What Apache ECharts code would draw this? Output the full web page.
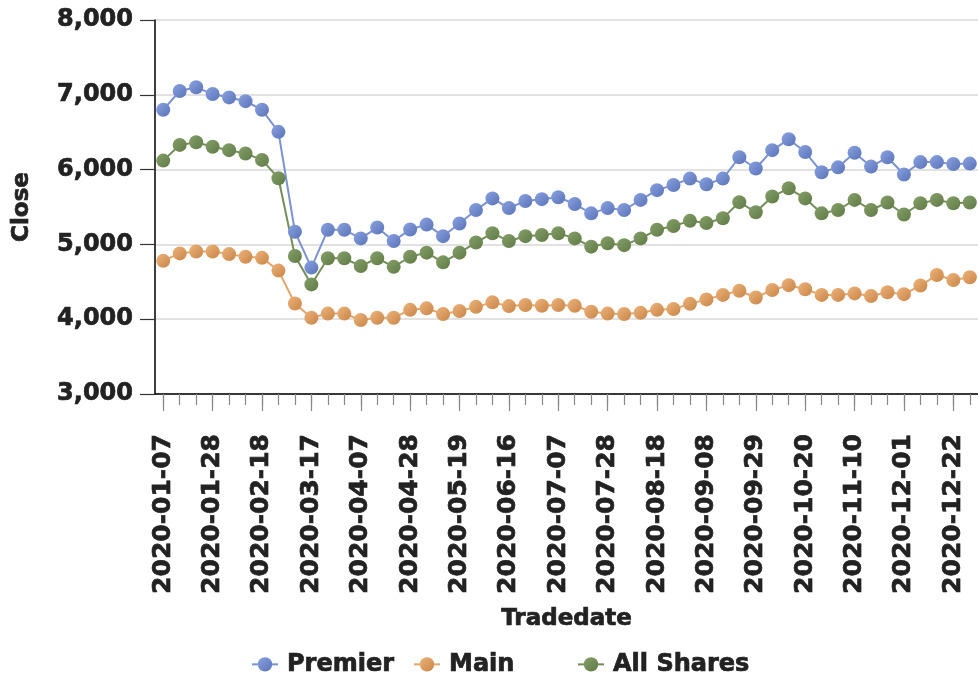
<!DOCTYPE html>
<html>
<head>
<meta charset="utf-8">
<script src="https://cdn.jsdelivr.net/npm/echarts@6/dist/echarts.min.js"></script>
<style>
html,body{margin:0;padding:0;background:#fff;}
#chart{width:978px;height:681px;}
</style>
</head>
<body>
<div id="chart"></div>
<script>
var tradedates = ['2020-01-07','2020-01-14','2020-01-21','2020-01-28','2020-02-04','2020-02-11','2020-02-18','2020-03-03','2020-03-10','2020-03-17',
'2020-03-24','2020-03-31','2020-04-07','2020-04-14','2020-04-21','2020-04-28','2020-05-05','2020-05-12','2020-05-19','2020-06-02',
'2020-06-09','2020-06-16','2020-06-23','2020-06-30','2020-07-07','2020-07-14','2020-07-21','2020-07-28','2020-08-04','2020-08-11',
'2020-08-18','2020-08-25','2020-09-01','2020-09-08','2020-09-15','2020-09-22','2020-09-29','2020-10-06','2020-10-13','2020-10-20',
'2020-10-27','2020-11-03','2020-11-10','2020-11-17','2020-11-24','2020-12-01','2020-12-08','2020-12-15','2020-12-22','2020-12-29'];

var premier = [6800,7050,7100,7010,6965,6915,6800,6505,5170,4690,
5195,5195,5080,5225,5045,5200,5265,5110,5280,5460,
5615,5485,5580,5605,5630,5540,5415,5485,5460,5595,
5725,5795,5880,5805,5880,6165,6015,6260,6405,6235,
5965,6030,6225,6040,6165,5935,6100,6100,6075,6080];

var mainIdx = [4780,4880,4905,4905,4870,4835,4820,4650,4210,4020,
4075,4075,3990,4020,4020,4125,4145,4070,4110,4165,
4225,4175,4190,4180,4190,4180,4100,4075,4070,4085,
4125,4135,4205,4265,4325,4380,4290,4390,4455,4400,
4325,4325,4345,4310,4360,4335,4450,4590,4525,4560];

var allShares = [6120,6330,6365,6305,6260,6215,6130,5885,4845,4465,
4815,4815,4710,4815,4700,4835,4890,4760,4890,5025,
5150,5045,5110,5125,5150,5080,4970,5015,4990,5080,
5195,5245,5315,5285,5350,5565,5430,5640,5750,5615,
5415,5460,5595,5460,5560,5400,5550,5595,5550,5560];

var seriesNames = ['Premier','Main','All Shares'];
var yTicks = [3000,4000,5000,6000,7000,8000];

var FONT = 'DejaVu Sans';
var TXT = '#222222';
var THICK = {textBorderColor: TXT, textBorderWidth: 0.7};

function grad(a,b){
  return new echarts.graphic.LinearGradient(0,0,1,1,[{offset:0,color:a},{offset:1,color:b}]);
}

var chart = echarts.init(document.getElementById('chart'), null, {renderer:'canvas'});

function mkSeries(name, data, line, c1, c2){
  return {
    name: name,
    type: 'line',
    xAxisIndex: 0,
    yAxisIndex: 0,
    data: data,
    symbol: 'circle',
    symbolSize: 14,
    showAllSymbol: true,
    lineStyle: {color: line, width: 2},
    itemStyle: {color: grad(c1, c2), borderWidth: 0},
    emphasis: {disabled: true},
    animation: false
  };
}

function mkLegend(name, left){
  return {
    data: [name],
    left: left,
    top: 652,
    itemWidth: 26,
    itemHeight: 18,
    itemGap: 0,
    padding: 0,
    textStyle: Object.assign({fontFamily: FONT, fontWeight: 'bold', fontSize: 24, color: TXT, padding: [0,0,0,4]}, THICK)
  };
}

var option = {
  backgroundColor: '#ffffff',
  animation: false,
  grid: {left: 155, top: 20, bottom: 287, right: -10, containLabel: false},
  legend: [mkLegend(seriesNames[0], 251), mkLegend(seriesNames[1], 413), mkLegend(seriesNames[2], 577)],
  xAxis: [
    {
      type: 'category',
      position: 'bottom',
      data: tradedates,
      boundaryGap: true,
      axisLine: {show: true, lineStyle: {color: '#000', width: 1.5}},
      axisTick: {show: true, interval: 0, alignWithLabel: true, length: 11, lineStyle: {color: '#888', width: 1.2}},
      axisLabel: {show: false},
      splitLine: {show: false}
    },
    {
      type: 'category',
      position: 'bottom',
      data: tradedates,
      boundaryGap: true,
      axisLine: {show: false},
      axisTick: {show: true, interval: 2, alignWithLabel: true, length: 17, lineStyle: {color: '#888', width: 1.2}},
      axisLabel: Object.assign({show: true, interval: 2, rotate: 90, margin: 40, fontFamily: FONT, fontWeight: 'bold', fontSize: 25, color: TXT}, THICK),
      splitLine: {show: false},
      name: 'Tradedate',
      nameLocation: 'middle',
      nameGap: 214,
      nameTextStyle: Object.assign({fontFamily: FONT, fontWeight: 'bold', fontSize: 23, color: TXT}, THICK)
    }
  ],
  yAxis: {
    type: 'value',
    min: yTicks[0],
    max: yTicks[yTicks.length-1],
    interval: 1000,
    axisLine: {show: true, lineStyle: {color: '#000', width: 1.5}},
    axisTick: {show: true, length: 15, lineStyle: {color: '#333', width: 1.2}},
    axisLabel: Object.assign({
      margin: 22,
      fontFamily: FONT, fontWeight: 'bold', fontSize: 24, color: TXT,
      formatter: function(v){ return v.toLocaleString('en-US'); }
    }, THICK),
    splitLine: {show: true, lineStyle: {color: '#d9d9d9', width: 1.5}},
    name: 'Close',
    nameLocation: 'middle',
    nameGap: 121,
    nameTextStyle: Object.assign({fontFamily: FONT, fontWeight: 'bold', fontSize: 23, color: TXT}, THICK)
  },
  series: [
    mkSeries(seriesNames[0], premier, '#7a92d1', '#8aa2e0', '#5a73b8'),
    mkSeries(seriesNames[1], mainIdx, '#e2a56a', '#ecb47c', '#c98446'),
    mkSeries(seriesNames[2], allShares, '#748e5a', '#86a06a', '#5f7a45')
  ]
};
chart.setOption(option);
</script>
</body>
</html>
